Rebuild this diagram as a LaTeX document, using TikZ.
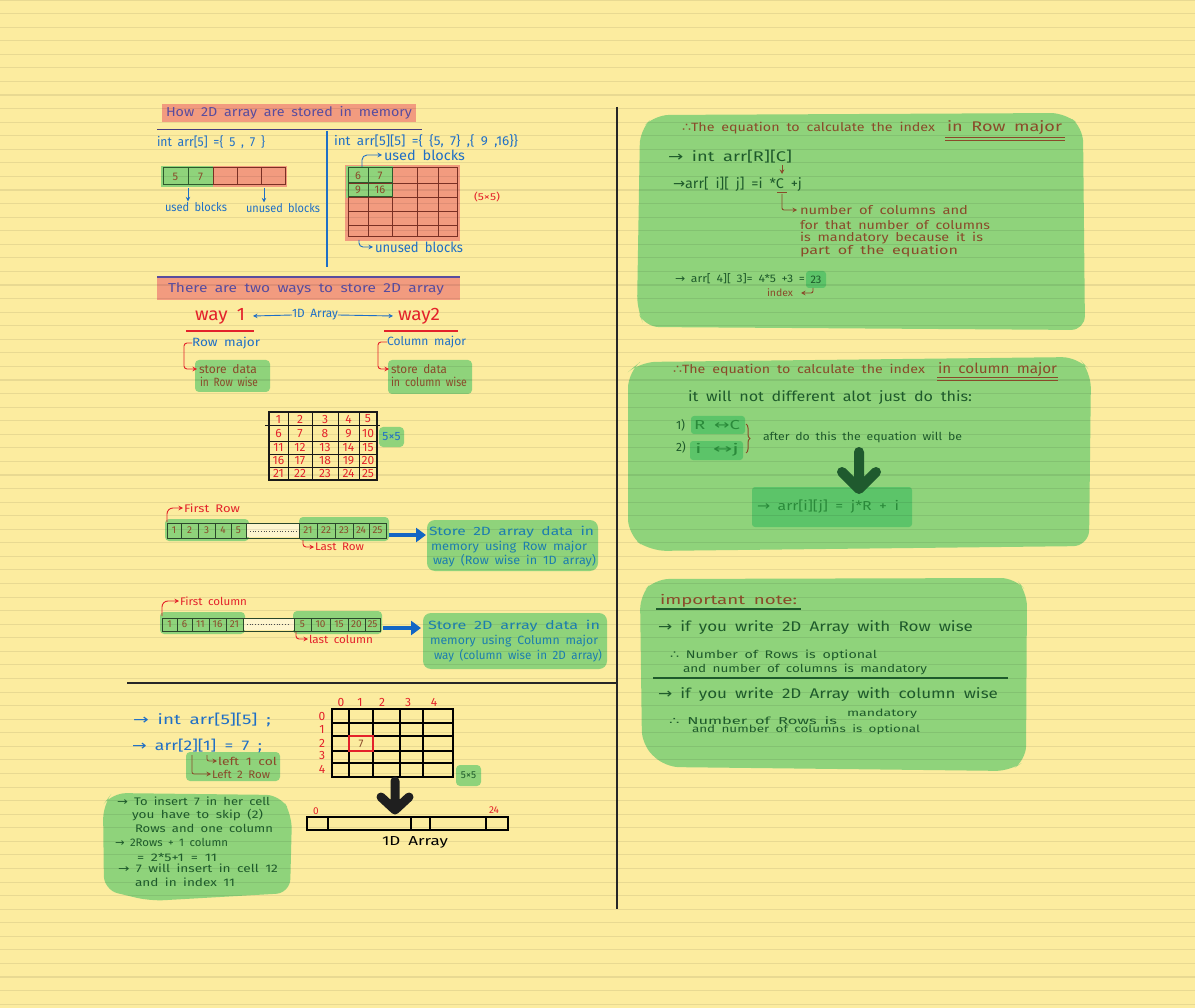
\documentclass[tikz,border=0pt]{standalone}
\usepackage{fontspec}
\setmainfont{Fira Sans}[WordSpace=1.8]
\newfontfamily\sym{DejaVu Sans}
\usetikzlibrary{arrows.meta,decorations.pathreplacing}
\newlength\fwlen
\newcommand\fw[2]{\settowidth\fwlen{#2}\pgfmathsetmacro\fwsx{#1/\fwlen}\scalebox{\fwsx}[1]{#2}}
\newcommand\fsz[1]{\fontsize{#1}{#1}\selectfont}
\newcommand\ra{{\sym →}}
\newcommand\tf{{\sym ∴}}
\newcommand\lra{{\sym ↔}}
\definecolor{paper}{HTML}{FCEC9F}
\definecolor{hlred}{HTML}{F29B7F}
\definecolor{purp}{HTML}{584C9E}
\definecolor{pen}{HTML}{1F6FC6}
\definecolor{pen2}{HTML}{1466C4}
\definecolor{redpen}{HTML}{E3222B}
\definecolor{hlgreen}{HTML}{8FD37B}
\definecolor{hlgreen2}{HTML}{5CC469}
\definecolor{brownpen}{HTML}{8A4A2A}
\definecolor{dkgreen}{HTML}{1E5A2B}
\definecolor{midgreen}{HTML}{2A8A3A}
\definecolor{tealpen}{HTML}{1C7DAE}
\definecolor{dkred}{HTML}{7A3024}
\definecolor{dkgrn}{HTML}{2D5A2D}
\definecolor{stripc}{HTML}{2B472B}
\definecolor{cream}{HTML}{FEF5CE}
\definecolor{arrowgreen}{HTML}{1F5A2E}
\tikzset{
  tx/.style={anchor=west, inner sep=0pt, outer sep=0pt},
  numtx/.style={inner sep=0pt, outer sep=0pt, font=\fsz{11}},
  hookar/.style={-{Stealth[length=4.5pt,width=4.5pt]}, line width=0.9pt},
  bigblue/.style={line width=4pt, pen2, -{Triangle[length=10pt,width=14pt]}},
  fatarrow/.style={line width=9pt, line cap=round, line join=round},
  hl/.style={rounded corners=4pt},
}
\begin{document}
\begin{tikzpicture}[x=1pt,y=-1pt]
\fill[paper] (0,0) rectangle (1195,1008);
\useasboundingbox (0,0) rectangle (1195,1008);

% ---------- highlight fills ----------
\fill[hlred] (162,104) rectangle (416,122);
\fill[hlred] (157,278) rectangle (460,300);
\fill[hlred] (213,166) rectangle (287,187);
\fill[hlred] (345,165) rectangle (460,241);
\fill[hlgreen] (161,166) rectangle (213,187);
\fill[hlgreen] (346,166) rectangle (393,198);
\fill[hlgreen,hl] (195,360) rectangle (270,392);
\fill[hlgreen,hl] (388,360) rectangle (472,394);
\fill[hlgreen,hl] (379,427) rectangle (404,447);
\fill[hlgreen,hl] (165,519) rectangle (249,541);
\fill[hlgreen,hl] (299,517) rectangle (389,541);
\fill[hlgreen,rounded corners=8pt] (427,520) rectangle (598,571);
\fill[hlgreen,hl] (160,612) rectangle (245,634);
\fill[hlgreen,hl] (293,611) rectangle (382,634);
\fill[hlgreen,rounded corners=8pt] (423,613) rectangle (607,669);
\fill[hlgreen,hl] (186,752) rectangle (280,781);
\fill[hlgreen,hl] (456,765) rectangle (481,786);
\fill[hlgreen,rounded corners=14pt] (112,793) -- (280,795) -- (292,815) -- (290,893) -- (150,901) -- (104,890) -- (103,805) -- cycle;
\fill[hlgreen,rounded corners=14pt] (655,115) -- (1065,113) -- (1083,128) -- (1085,330) -- (645,327) -- (637,310) -- (640,130) -- cycle;
\fill[hlgreen,rounded corners=16pt] (640,362) -- (1078,357) -- (1091,372) -- (1089,546) -- (650,551) -- (628,535) -- (628,372) -- cycle;
\fill[hlgreen,rounded corners=14pt] (655,579) -- (1015,578) -- (1027,592) -- (1026,760) -- (1010,771) -- (665,767) -- (642,745) -- (640,595) -- cycle;
\fill[hlgreen2,rounded corners=3pt] (806,271) rectangle (826,288);
\fill[hlgreen2,rounded corners=3pt] (691,416) rectangle (745,434);
\fill[hlgreen2,rounded corners=3pt] (690,441) rectangle (743,460);
\fill[hlgreen2,rounded corners=3pt] (752,487) rectangle (912,527);
\fill[cream] (246,524) rectangle (299,537);
\fill[cream] (243,619) rectangle (294,630);

% ---------- ruled paper lines ----------
\foreach \k in {0,...,74}
  \draw[black, draw opacity=0.08, line width=1.1pt] (0,\k*13.57) -- (1195,\k*13.57);

% ---------- frame lines ----------
\draw[black!85, line width=1.3pt] (617,107) -- (617,909);
\draw[black!85, line width=1.3pt] (127,683) -- (617,683);
\draw[purp!80!black, line width=1pt] (157,130) -- (422,130);
\draw[pen, line width=1.3pt] (327,131) -- (327,267);
\draw[purp, line width=1.2pt] (157,277) -- (460,277);

% ---------- section 1 ----------
\node[tx, purp, font=\fsz{13}] (h1) at (166,113) {\fw{246}{How 2D array are stored in memory}};
\node[tx, pen, font=\fsz{13}] (c1) at (157,142) {\fw{108}{int arr[5] =\{ 5 , 7 \}}};
\node[tx, pen, font=\fsz{13}] (c2) at (334,141) {\fw{184}{int arr[5][5] =\{ \{5, 7\} ,\{ 9 ,16\}\}}};

\draw[dkgrn, line width=1pt] (163,168) rectangle (213,185) (188,168) -- (188,185);
\draw[dkred, line width=1pt] (213,168) rectangle (285,185) (237,168) -- (237,185) (261,168) -- (261,185);
\node[numtx, brownpen] (a5) at (175.5,176.5) {5};
\node[numtx, brownpen] (a7) at (200.5,176.5) {7};
\node[tx, pen, font=\fsz{12}] (ul) at (165,207) {\fw{62}{used blocks}};
\node[tx, pen, font=\fsz{12}] (uul) at (246,208) {\fw{74}{unused blocks}};
\coordinate (u1) at (188,188);
\coordinate (u2) at (264,188);
\draw[pen, hookar] (u1) -- ([yshift=1pt]u1 |- ul.north);
\draw[pen, hookar] (u2) -- ([yshift=1pt]u2 |- uul.north);

\draw[dkred, line width=1pt] (348,168) rectangle (457,237);
\foreach \x in {368,392,417,438} \draw[dkred, line width=0.9pt] (\x,168) -- (\x,237);
\foreach \y in {183,197,211,225} \draw[dkred, line width=0.9pt] (348,\y) -- (457,\y);
\draw[dkgrn, line width=1pt] (348,168) rectangle (392,197) (368,168) -- (368,197) (348,183) -- (392,183);
\node[numtx, brownpen] (m6) at (358,175.5) {6};
\node[numtx, brownpen] (m7) at (380,175.5) {7};
\node[numtx, brownpen] (m9) at (358,190) {9};
\node[numtx, brownpen] (m16) at (380,190) {16};
\node[tx, pen, font=\fsz{14}] (ub2) at (384,155) {\fw{81}{used blocks}};
\node[tx, pen, font=\fsz{14}] (ub3) at (375,247) {\fw{88}{unused blocks}};
\draw[pen, hookar, rounded corners=5pt] (362,167) |- ([xshift=-2pt]ub2.west);
\draw[pen, hookar, rounded corners=4pt] (359,240) |- ([xshift=-2pt]ub3.west);
\node[tx, redpen, font=\fsz{10}] (g55) at (474,197) {\fw{26}{(5×5)}};

% ---------- section 2 ----------
\node[tx, purp, font=\fsz{13}] (h2) at (168,289) {\fw{276}{There are two ways to store 2D array}};
\node[tx, redpen, font=\fsz{18}] (w1) at (195,316) {\fw{50}{way 1}};
\node[tx, redpen, font=\fsz{18}] (w2) at (398,316) {\fw{42}{way2}};
\node[tx, pen, font=\fsz{12}] (oned) at (292,315) {\fw{46}{1D Array}};
\draw[pen, hookar] (oned.west) -- ([xshift=8pt]w1.east);
\draw[pen, hookar] (oned.east) -- ([xshift=-5pt]w2.west);
\draw[redpen, line width=1.3pt] (186,331) -- (254,331);
\draw[redpen, line width=1.3pt] (384,331) -- (458,331);
\node[tx, pen, font=\fsz{12}] (rm) at (192,343) {\fw{68}{Row major}};
\node[tx, pen, font=\fsz{12}] (cm) at (387,342) {\fw{79}{Column major}};
\node[tx, brownpen, font=\fsz{12}] (rm1) at (199,369) {\fw{58}{store data}};
\node[tx, brownpen, font=\fsz{12}] (rm2) at (200,382) {\fw{58}{in Row wise}};
\node[tx, brownpen, font=\fsz{12}] (cm1) at (391,369) {\fw{56}{store data}};
\node[tx, brownpen, font=\fsz{12}] (cm2) at (391,382) {\fw{76}{in column wise}};
\draw[redpen, hookar, rounded corners=3pt] (rm.west) -- ++(-8,0) |- ([xshift=-2pt]rm1.west);
\draw[redpen, hookar, rounded corners=3pt] (cm.west) -- ++(-9,0) |- ([xshift=-2pt]cm1.west);

% 5x5 grid
\draw[black!90, line width=1.1pt] (269,412) rectangle (377,480);
\foreach \x in {288,312,338,359} \draw[black!90, line width=0.9pt] (\x,412) -- (\x,480);
\draw[black!90, line width=1pt] (265,426) -- (380,426);
\foreach \y in {441,454,467} \draw[black!90, line width=0.9pt] (269,\y) -- (377,\y);
\foreach \r [count=\i from 0] in {419,433.5,447.5,460.5,473.5} {
  \foreach \c [count=\j from 1] in {278.5,300,325,348.5,368} {
    \pgfmathtruncatemacro\n{\i*5+\j}
    \node[numtx, redpen, font=\fsz{12}] (g\n) at (\c,\r) {\n};
  }
}
\node[numtx, pen, font=\fsz{12}] (g55b) at (391.5,437) {5×5};

% row-major strip
\draw[stripc, line width=1pt] (167,523) rectangle (386,538);
\foreach \x in {181,198,215,231,246,299,317,335,353,369} \draw[stripc, line width=0.9pt] (\x,523) -- (\x,538);
\draw[black!70, dotted, line width=0.7pt] (250,531) -- (296,531);
\foreach \c/\v [count=\i] in {174/1,189.5/2,206.5/3,223/4,238.5/5,308/21,326/22,344/23,361/24,377.5/25}
  \node[numtx, brownpen, font=\fsz{10}] (ra\i) at (\c,530.5) {\v};
\node[tx, redpen, font=\fsz{11}] (fr) at (184,508) {\fw{56}{First Row}};
\node[tx, redpen, font=\fsz{11}] (lr) at (315,547) {\fw{49}{Last Row}};
\draw[redpen, hookar, rounded corners=6pt] (167,522) |- ([xshift=-1pt]fr.west);
\draw[redpen, hookar, rounded corners=3pt] (303,540) |- ([xshift=-1pt]lr.west);
\coordinate (s1e) at (389,535);
\coordinate (st1) at (426,535);
\draw[bigblue] (s1e) -- (st1);
\node[tx, tealpen, font=\fsz{12}] (s1a) at (429,532) {\fw{165}{Store 2D array data in}};
\node[tx, tealpen, font=\fsz{12}] (s1b) at (431,547) {\fw{156}{memory using Row major}};
\node[tx, tealpen, font=\fsz{12}] (s1c) at (433,561) {\fw{163}{way (Row wise in 1D array)}};

% column-major strip
\draw[stripc, line width=1pt] (162,618) rectangle (380,631);
\foreach \x in {177,192,209,226,243,294,311,330,348,365} \draw[stripc, line width=0.9pt] (\x,618) -- (\x,631);
\draw[black!70, dotted, line width=0.7pt] (247,624.5) -- (290,624.5);
\foreach \c/\v [count=\i] in {169.5/1,184.5/6,200.5/11,217.5/16,234.5/21,302.5/5,320.5/10,339/15,356.5/20,372.5/25}
  \node[numtx, brownpen, font=\fsz{10}] (ca\i) at (\c,624.5) {\v};
\node[tx, redpen, font=\fsz{11}] (fc) at (180,601) {\fw{67}{First column}};
\node[tx, redpen, font=\fsz{11}] (lc) at (309,639) {\fw{64}{last column}};
\draw[redpen, hookar, rounded corners=6pt] (162,616) |- ([xshift=-1pt]fc.west);
\draw[redpen, hookar, rounded corners=3pt] (296,632) |- ([xshift=-1pt]lc.west);
\coordinate (s2e) at (383,628);
\coordinate (st2) at (421,628);
\draw[bigblue] (s2e) -- (st2);
\node[tx, tealpen, font=\fsz{12}] (s2a) at (428,626) {\fw{172}{Store 2D array data in}};
\node[tx, tealpen, font=\fsz{12}] (s2b) at (430,641) {\fw{168}{memory using Column major}};
\node[tx, tealpen, font=\fsz{12}] (s2c) at (434,656) {\fw{168}{way (column wise in 2D array)}};

% ---------- bottom left ----------
\node[tx, pen, font=\fsz{14}] (b1) at (133,720) {\fw{138}{\ra\ int arr[5][5] ;}};
\node[tx, pen, font=\fsz{14}] (b2) at (132,746) {\fw{130}{\ra\ arr[2][1] = 7 ;}};
\node[tx, brownpen, font=\fsz{11}] (b3) at (218,761) {\fw{59}{left 1 col}};
\node[tx, brownpen, font=\fsz{11}] (b4) at (212,774) {\fw{58}{Left 2 Row}};
\draw[brownpen, hookar, line width=0.8pt, rounded corners=2pt] (207,755) |- ([xshift=-1pt]b3.west);
\draw[brownpen, hookar, line width=0.8pt, rounded corners=2pt] (192,755) |- ([xshift=-1pt]b4.west);

\draw[black, line width=1.3pt] (332,709) rectangle (453,777);
\foreach \x in {349,373,400,423} \draw[black, line width=1.2pt] (\x,709) -- (\x,777);
\foreach \y in {723,736,751,763} \draw[black, line width=1.2pt] (332,\y) -- (453,\y);
\draw[redpen, line width=1.5pt] (349,736) rectangle (373,751);
\node[numtx, brownpen] (c7) at (361,743.5) {7};
\foreach \c/\v in {341/0,360/1,382/2,408/3,434/4} \node[numtx, redpen, font=\fsz{12}] (col\v) at (\c,702) {\v};
\foreach \r/\v in {716/0,729/1,743/2,755/3,769/4} \node[numtx, redpen, font=\fsz{12}] (row\v) at (322,\r) {\v};
\node[numtx, dkgreen, font=\fsz{10}] (g55c) at (468.5,775.5) {5×5};
\draw[fatarrow, black!88] (395,781) -- (395,808) (381,797) -- (395,810) -- (409,797);
\draw[black, line width=1.2pt] (307,817) rectangle (508,830);
\foreach \x in {328,411,430,486} \draw[black, line width=1.1pt] (\x,817) -- (\x,830);
\node[numtx, redpen, font=\fsz{10}] (i0) at (316,811) {0};
\node[numtx, redpen, font=\fsz{10}] (i24) at (494,810) {24};
\node[tx, black, font=\fsz{13}] (oned2) at (382,842) {\fw{66}{1D Array}};

\node[tx, dkgreen, font=\fsz{11}] (n1) at (117,801) {\fw{153}{\ra\ To insert 7 in her cell}};
\node[tx, dkgreen, font=\fsz{11}] (n2) at (132,815) {\fw{131}{you have to skip (2)}};
\node[tx, dkgreen, font=\fsz{11}] (n3) at (135,828) {\fw{138}{Rows and one column}};
\node[tx, dkgreen, font=\fsz{11}] (n4) at (115,842) {\fw{113}{\ra\ 2Rows + 1 column}};
\node[tx, dkgreen, font=\fsz{11}] (n5) at (137,857) {\fw{80}{= 2*5+1 = 11}};
\node[tx, dkgreen, font=\fsz{11}] (n6) at (118,868) {\fw{160}{\ra\ 7 will insert in cell 12}};
\node[tx, dkgreen, font=\fsz{11}] (n7) at (135,882) {\fw{100}{and in index 11}};

% ---------- right box 1 ----------
\node[tx, brownpen, font=\fsz{12}] (r1h) at (682,128) {\fw{253}{\tf The equation to calculate the index}};
\node[tx, brownpen, font=\fsz{14}] (r1u) at (947,128) {\fw{115}{in Row major}};
\draw[brownpen, line width=0.9pt] (945,137.5) -- (1065,137.5) (945,140.5) -- (1065,140.5);
\node[tx, dkgreen, font=\fsz{14}] (r1a) at (668,157) {\fw{124}{\ra\ int arr[R][C]}};
\node[tx, dkgreen, font=\fsz{14}] (r1b) at (673,184) {\fw{129}{\ra arr[ i][ j] =i *C +j}};
\draw[brownpen, line width=0.9pt] (777,192) -- (787,192);
\draw[brownpen, hookar] (782,165) -- (782,174);
\node[tx, brownpen, font=\fsz{12}] (r1c) at (800,210) {\fw{168}{number of columns and}};
\node[tx, brownpen, font=\fsz{12}] (r1d) at (800,225) {\fw{190}{for that number of columns}};
\node[tx, brownpen, font=\fsz{12}] (r1e) at (800,238) {\fw{183}{is mandatory because it is}};
\node[tx, brownpen, font=\fsz{12}] (r1f) at (800,251) {\fw{158}{part of the equation}};
\draw[brownpen, hookar, rounded corners=2pt] (782,194) |- ([xshift=-3pt]r1c.west);
\node[tx, dkgreen, font=\fsz{11}] (r1g) at (675,279) {\fw{130}{\ra\ arr[ 4][ 3]= 4*5 +3 =}};
\node[numtx, dkgreen, font=\fsz{11}] (r1v) at (816,279.5) {23};
\node[tx, brownpen, font=\fsz{10}] (idx) at (767,293) {\fw{26}{index}};
\draw[brownpen, hookar, rounded corners=2pt] (813,288) |- ([xshift=8pt]idx.east);

% ---------- right box 2 ----------
\node[tx, brownpen, font=\fsz{12}] (r2h) at (673,370) {\fw{252}{\tf The equation to calculate the index}};
\node[tx, brownpen, font=\fsz{14}] (r2u) at (938,370) {\fw{119}{in column major}};
\draw[brownpen, line width=0.9pt] (937,377.5) -- (1058,377.5) (937,380.5) -- (1058,380.5);
\node[tx, dkgreen, font=\fsz{14}] (r2a) at (688,398) {\fw{284}{it will not different alot just do this:}};
\node[tx, dkgreen, font=\fsz{12}] (r2n1) at (676,425) {1)};
\node[tx, dkgreen, font=\fsz{12}] (r2n2) at (676,447) {2)};
\node[tx, midgreen, font=\fsz{13}] (r2b) at (694,425) {\fw{46}{R \lra C}};
\node[tx, midgreen, font=\fsz{13}] (r2c) at (695,450) {\fw{44}{i \lra j}};
\draw[brownpen, line width=1pt, decorate, decoration={brace, amplitude=4pt}] (746,424) -- (746,453);
\node[tx, dkgreen, font=\fsz{11}] (r2d) at (763,437) {\fw{199}{after do this the equation will be}};
\draw[fatarrow, arrowgreen, line width=10pt] (859,452) -- (859,486) (842,472) -- (859,489) -- (876,472);
\node[tx, midgreen, font=\fsz{13}] (r2e) at (757,507) {\fw{142}{\ra\ arr[i][j] = j*R + i}};

% ---------- right box 3 ----------
\node[tx, brownpen, font=\fsz{13}] (r3h) at (660,601) {\fw{137}{important note:}};
\draw[dkgreen, line width=1.3pt] (656,609) -- (801,609);
\node[tx, dkgreen, font=\fsz{14}] (r3a) at (658,628) {\fw{315}{\ra\ if you write 2D Array with Row wise}};
\node[tx, dkgreen, font=\fsz{11}] (r3b) at (670,655) {\fw{207}{\tf\ Number of Rows is optional}};
\node[tx, dkgreen, font=\fsz{11}] (r3c) at (683,669) {\fw{244}{and number of columns is mandatory}};
\draw[dkgreen, line width=1.2pt] (653,678) -- (1008,678);
\node[tx, dkgreen, font=\fsz{14}] (r3d) at (658,695) {\fw{340}{\ra\ if you write 2D Array with column wise}};
\node[tx, dkgreen, font=\fsz{10}] (r3e) at (847,714) {\fw{70}{mandatory}};
\node[tx, dkgreen, font=\fsz{10}] (r3f) at (669,721) {\fw{168}{\tf\ Number of Rows is}};
\node[tx, dkgreen, font=\fsz{10}] (r3g) at (692,730) {\fw{228}{and number of columns is optional}};
\end{tikzpicture}
\end{document}
